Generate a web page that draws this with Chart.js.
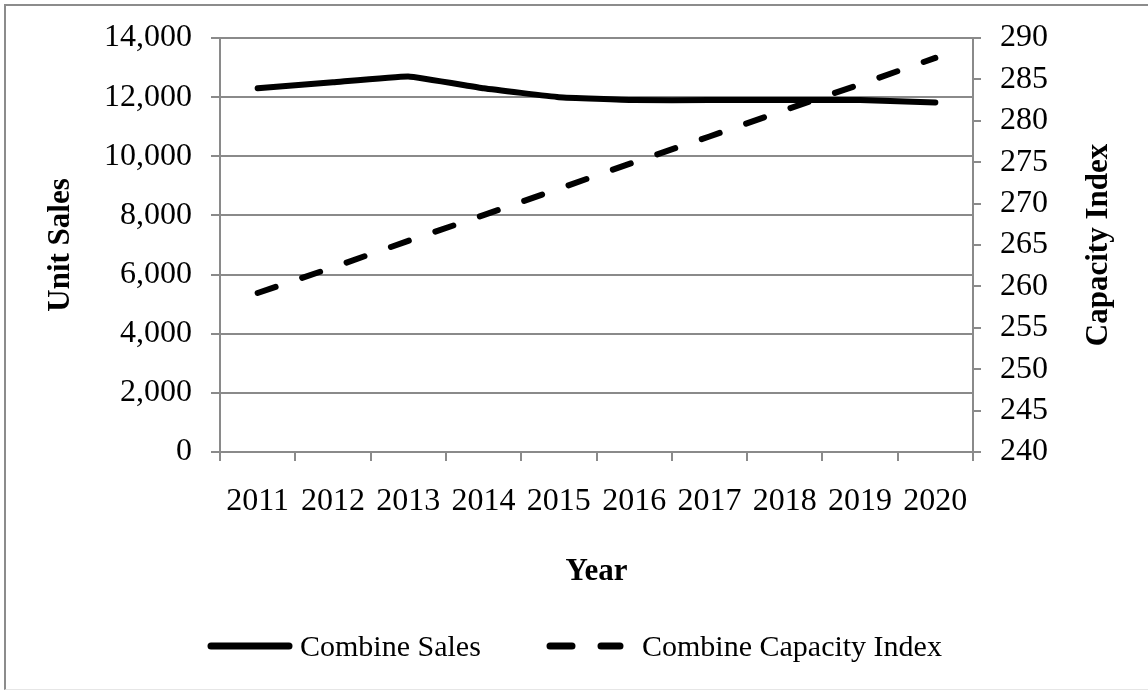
<!DOCTYPE html>
<html>
<head>
<meta charset="utf-8">
<script src="https://cdn.jsdelivr.net/npm/chart.js@4.4.0/dist/chart.umd.min.js"></script>
<style>
  html, body { margin: 0; padding: 0; background: #fff; }
  body { width: 1148px; height: 690px; overflow: hidden; position: relative; }
  .frame {
    position: absolute; left: 4px; top: 4px; width: 1170px; height: 683px;
    border-left: 2px solid #8c8c8c; border-top: 2px solid #8c8c8c; border-bottom: 1px solid #e6e6e6;
  }
  .chart { position: absolute; left: 0; top: 0; }
</style>
</head>
<body>
<div class="frame"></div>
<div class="chart"><canvas id="myChart" width="1148" height="690"></canvas></div>
<script>
// Yearly figures for combines
const years = ['2011', '2012', '2013', '2014', '2015', '2016', '2017', '2018', '2019', '2020'];
const combineSales = [12300, 12500, 12700, 12300, 12000, 11900, 11900, 11900, 11900, 11820];
const combineCapacity = [259.2, 262.3, 265.5, 268.6, 271.8, 275.0, 278.1, 281.3, 284.4, 287.6];

// axis ranges
const salesAxis = { min: 0, max: 14000, step: 2000 };
const capacityAxis = { min: 240, max: 290, step: 5 };

const FONT = '"Liberation Serif", "Times New Roman", serif';
const GRID = '#8a8a8a';
const TICK_SIZE = 32;

// fixed box sizes so the plot sits where it should
const pinWidth = (w) => (scale) => {
    scale.width = w;
    scale.paddingTop = 0;
    scale.paddingBottom = 0;
};
const pinHeight = (h) => (scale) => {
    scale.height = h;
    scale.paddingLeft = 0;
    scale.paddingRight = 0;
};

// right axis title reads bottom-to-top, like the left one
const rightTitle = {
    id: 'rightTitle',
    afterDraw(chart) {
        const opts = chart.options.scales.y1.title;
        const area = chart.chartArea;
        const ctx = chart.ctx;
        ctx.save();
        ctx.font = 'bold 31px ' + FONT;
        ctx.fillStyle = '#000';
        ctx.textAlign = 'center';
        ctx.textBaseline = 'middle';
        ctx.translate(1099, (area.top + area.bottom) / 2);
        ctx.rotate(-Math.PI / 2);
        ctx.fillText(opts.text, 0, 0);
        ctx.restore();
    }
};

// legend row along the bottom of the frame
const legendSpots = [
    { from: 208, to: 292, text: 300, dash: [] },
    { from: 547, to: 623, text: 642, dash: [22, 29] }
];
const bottomLegend = {
    id: 'bottomLegend',
    afterDraw(chart) {
        const ctx = chart.ctx;
        const y = 646;
        chart.data.datasets.forEach((ds, i) => {
            const spot = legendSpots[i];
            ctx.save();
            ctx.strokeStyle = ds.borderColor;
            ctx.lineWidth = 7;
            ctx.lineCap = 'round';
            ctx.setLineDash(spot.dash);
            ctx.beginPath();
            ctx.moveTo(spot.from + 3, y);
            ctx.lineTo(spot.to - 3, y);
            ctx.stroke();
            ctx.setLineDash([]);
            ctx.font = '30px ' + FONT;
            ctx.fillStyle = '#000';
            ctx.textBaseline = 'middle';
            ctx.fillText(ds.label, spot.text, y + 2);
            ctx.restore();
        });
    }
};

const ctx = document.getElementById('myChart').getContext('2d');
const chart = new Chart(ctx, {
    type: 'line',
    data: {
        labels: years,
        datasets: [{
            label: 'Combine Sales',
            data: combineSales,
            yAxisID: 'y',
            borderColor: '#000',
            borderWidth: 6,
            borderCapStyle: 'round',
            borderJoinStyle: 'round',
            pointRadius: 0,
            tension: 0.1,
            fill: false
        }, {
            label: 'Combine Capacity Index',
            data: combineCapacity,
            yAxisID: 'y1',
            borderColor: '#000',
            borderWidth: 6,
            borderDash: [19, 28],
            borderCapStyle: 'round',
            pointRadius: 0,
            tension: 0,
            fill: false
        }]
    },
    options: {
        responsive: false,
        animation: false,
        devicePixelRatio: 1,
        layout: { autoPadding: false, padding: { top: 38, left: 0, right: 0, bottom: 0 } },
        plugins: {
            legend: { display: false },
            tooltip: { enabled: false }
        },
        scales: {
            x: {
                offset: true,
                afterFit: pinHeight(238),
                grid: { offset: true, drawOnChartArea: false, color: GRID, lineWidth: 2, tickLength: 9 },
                border: { color: GRID, width: 2 },
                ticks: { color: '#000', font: { family: FONT, size: TICK_SIZE }, padding: 21, maxRotation: 0, autoSkip: false },
                title: {
                    display: true, text: 'Year', color: '#000',
                    font: { family: FONT, size: 31, weight: 'bold' },
                    padding: { top: 0, bottom: 99 }
                }
            },
            y: {
                position: 'left',
                min: salesAxis.min, max: salesAxis.max,
                afterFit: pinWidth(220),
                grid: { color: GRID, lineWidth: 2, tickLength: 9 },
                border: { color: GRID, width: 2 },
                ticks: {
                    stepSize: salesAxis.step, color: '#000', padding: 19,
                    font: { family: FONT, size: TICK_SIZE },
                    callback: (v) => v.toLocaleString('en-US')
                },
                title: {
                    display: true, text: 'Unit Sales', color: '#000',
                    font: { family: FONT, size: 31, weight: 'bold' },
                    padding: { top: 42, bottom: 0 }
                }
            },
            y1: {
                position: 'right',
                min: capacityAxis.min, max: capacityAxis.max,
                afterFit: pinWidth(175),
                grid: { drawOnChartArea: false, color: GRID, lineWidth: 2, tickLength: 8 },
                border: { color: GRID, width: 2 },
                ticks: { stepSize: capacityAxis.step, color: '#000', padding: 19, font: { family: FONT, size: TICK_SIZE } },
                title: { display: false, text: 'Capacity Index' }
            }
        }
    },
    plugins: [rightTitle, bottomLegend]
});
</script>
</body>
</html>
